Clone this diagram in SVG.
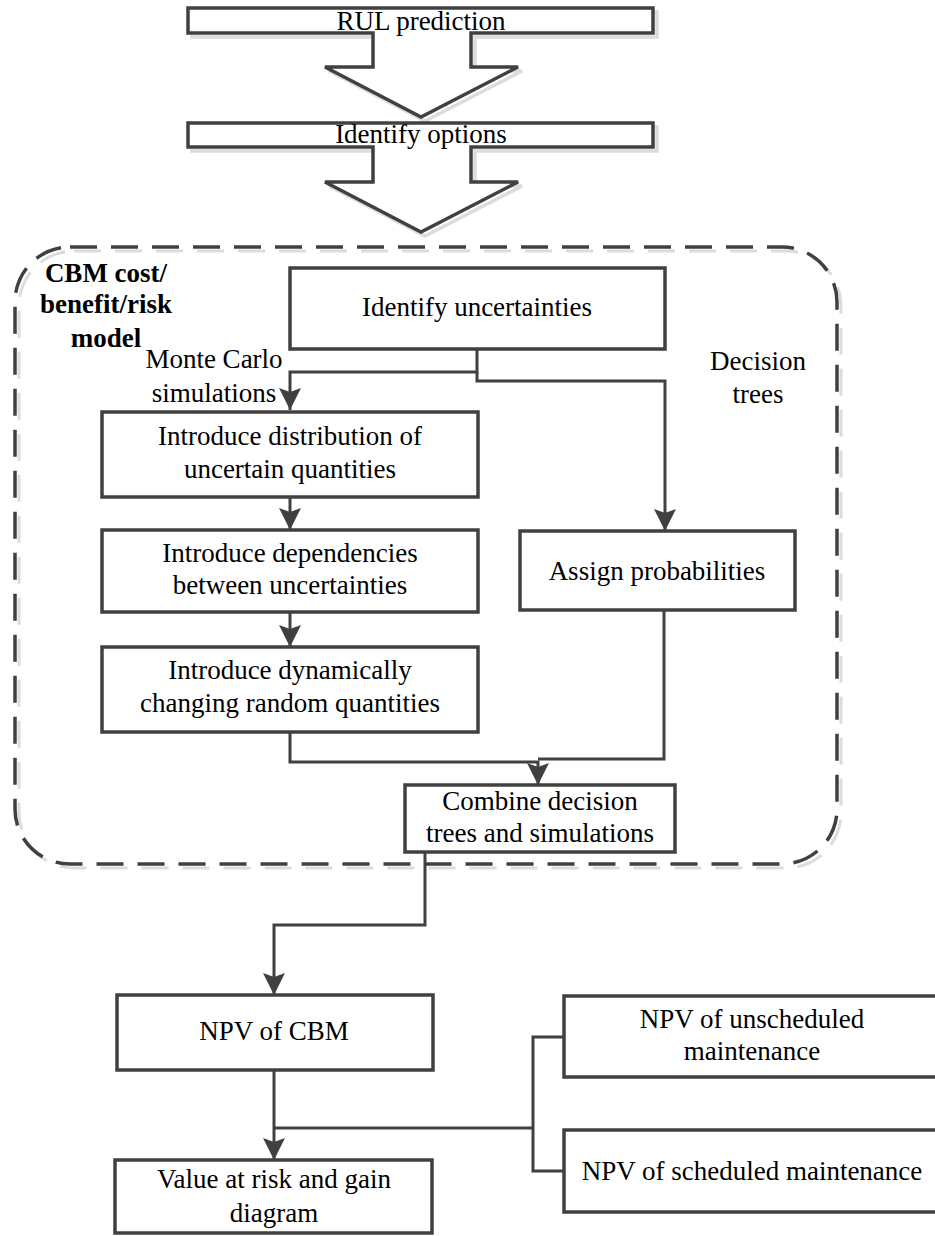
<svg xmlns="http://www.w3.org/2000/svg" width="935" height="1236" viewBox="0 0 935 1236">
<style>
.box{fill:#fff;stroke:#404040;stroke-width:3.5}
.blk{fill:#fff;stroke:#404040;stroke-width:3.5;stroke-linejoin:miter}
.shd{fill:none;stroke:#dcdcdc;stroke-width:3.5}
.con{fill:none;stroke:#404040;stroke-width:3}
.t{font-family:"Liberation Serif","Times New Roman",serif;font-size:27px;fill:#000;text-anchor:middle}
.b{font-weight:bold}
</style>
<defs>
<marker id="ah" markerUnits="userSpaceOnUse" markerWidth="24" markerHeight="24" viewBox="0 -12 24 24" refX="22" refY="0" orient="auto">
<path d="M0,-11 L22,0 L0,11 L4,0 Z" fill="#404040"/>
</marker>
</defs>
<rect x="15" y="247" width="822" height="617" rx="55" ry="55" fill="none" stroke="#dcdcdc" stroke-width="3" stroke-dasharray="27 14" transform="translate(4,4)"/>
<g id="cbm-model">
<rect x="15" y="247" width="822" height="617" rx="55" ry="55" fill="none" stroke="#404040" stroke-width="3.5" stroke-dasharray="27 14"/>
<text class="t b" x="106" y="282">CBM cost/</text>
<text class="t b" x="106" y="313">benefit/risk</text>
<text class="t b" x="106" y="347">model</text>
</g>
<g id="rul">
<polygon class="shd" points="192,12 657,12 657,37 475,37 475,71 522,71 425,121 329,71 377,71 377,37 192,37"/>
<polygon class="blk" points="188,8 653,8 653,33 471,33 471,67 518,67 421,117 325,67 373,67 373,33 188,33"/>
<text class="t" x="421" y="30">RUL prediction</text>
</g>
<g id="options">
<polygon class="shd" points="192,127 657,127 657,151 475,151 475,186 522,186 425,236 329,186 377,186 377,151 192,151"/>
<polygon class="blk" points="188,123 653,123 653,147 471,147 471,182 518,182 421,232 325,182 373,182 373,147 188,147"/>
<text class="t" x="421" y="143">Identify options</text>
</g>
<g id="connectors">
<path class="con" d="M477,349 V372 H290 V410" marker-end="url(#ah)"/>
<path class="con" d="M477,372 V381 H665 V531" marker-end="url(#ah)"/>
<path class="con" d="M290,497 V530" marker-end="url(#ah)"/>
<path class="con" d="M290,612 V647" marker-end="url(#ah)"/>
<path class="con" d="M290,732 V762 H538 V785" marker-end="url(#ah)"/>
<path class="con" d="M664,610 V759 H538"/>
<path class="con" d="M425,852 V925 H274 V995" marker-end="url(#ah)"/>
<path class="con" d="M274,1070 V1160" marker-end="url(#ah)"/>
<path class="con" d="M274,1128 H533"/>
<path class="con" d="M564,1037 H533 V1171 H564"/>
</g>
<g id="labels">
<text class="t" x="214" y="368">Monte Carlo</text>
<text class="t" x="214" y="402">simulations</text>
<text class="t" x="758" y="370">Decision</text>
<text class="t" x="758" y="403">trees</text>
</g>
<g id="identify-uncertainties">
<rect class="box" x="290" y="268" width="375" height="81"/>
<text class="t" x="477" y="316">Identify uncertainties</text>
</g>
<g id="distribution">
<rect class="box" x="102" y="412" width="376" height="85"/>
<text class="t" x="290" y="445">Introduce distribution of</text>
<text class="t" x="290" y="478">uncertain quantities</text>
</g>
<g id="dependencies">
<rect class="box" x="102" y="530" width="376" height="82"/>
<text class="t" x="290" y="562">Introduce dependencies</text>
<text class="t" x="290" y="594">between uncertainties</text>
</g>
<g id="dynamic">
<rect class="box" x="102" y="647" width="376" height="85"/>
<text class="t" x="290" y="679">Introduce dynamically</text>
<text class="t" x="290" y="712">changing random quantities</text>
</g>
<g id="assign">
<rect class="box" x="520" y="531" width="275" height="79"/>
<text class="t" x="657" y="580">Assign probabilities</text>
</g>
<g id="combine">
<rect class="box" x="405" y="785" width="270" height="67"/>
<text class="t" x="540" y="810">Combine decision</text>
<text class="t" x="540" y="842">trees and simulations</text>
</g>
<g id="npv-cbm">
<rect class="box" x="117" y="995" width="316" height="75"/>
<text class="t" x="274" y="1040">NPV of CBM</text>
</g>
<g id="var">
<rect class="box" x="115" y="1160" width="317" height="73"/>
<text class="t" x="274" y="1188">Value at risk and gain</text>
<text class="t" x="274" y="1222">diagram</text>
</g>
<g id="npv-unscheduled">
<rect class="box" x="564" y="996" width="380" height="81"/>
<text class="t" x="752" y="1028">NPV of unscheduled</text>
<text class="t" x="752" y="1060">maintenance</text>
</g>
<g id="npv-scheduled">
<rect class="box" x="564" y="1130" width="380" height="82"/>
<text class="t" x="752" y="1180">NPV of scheduled maintenance</text>
</g>
</svg>
